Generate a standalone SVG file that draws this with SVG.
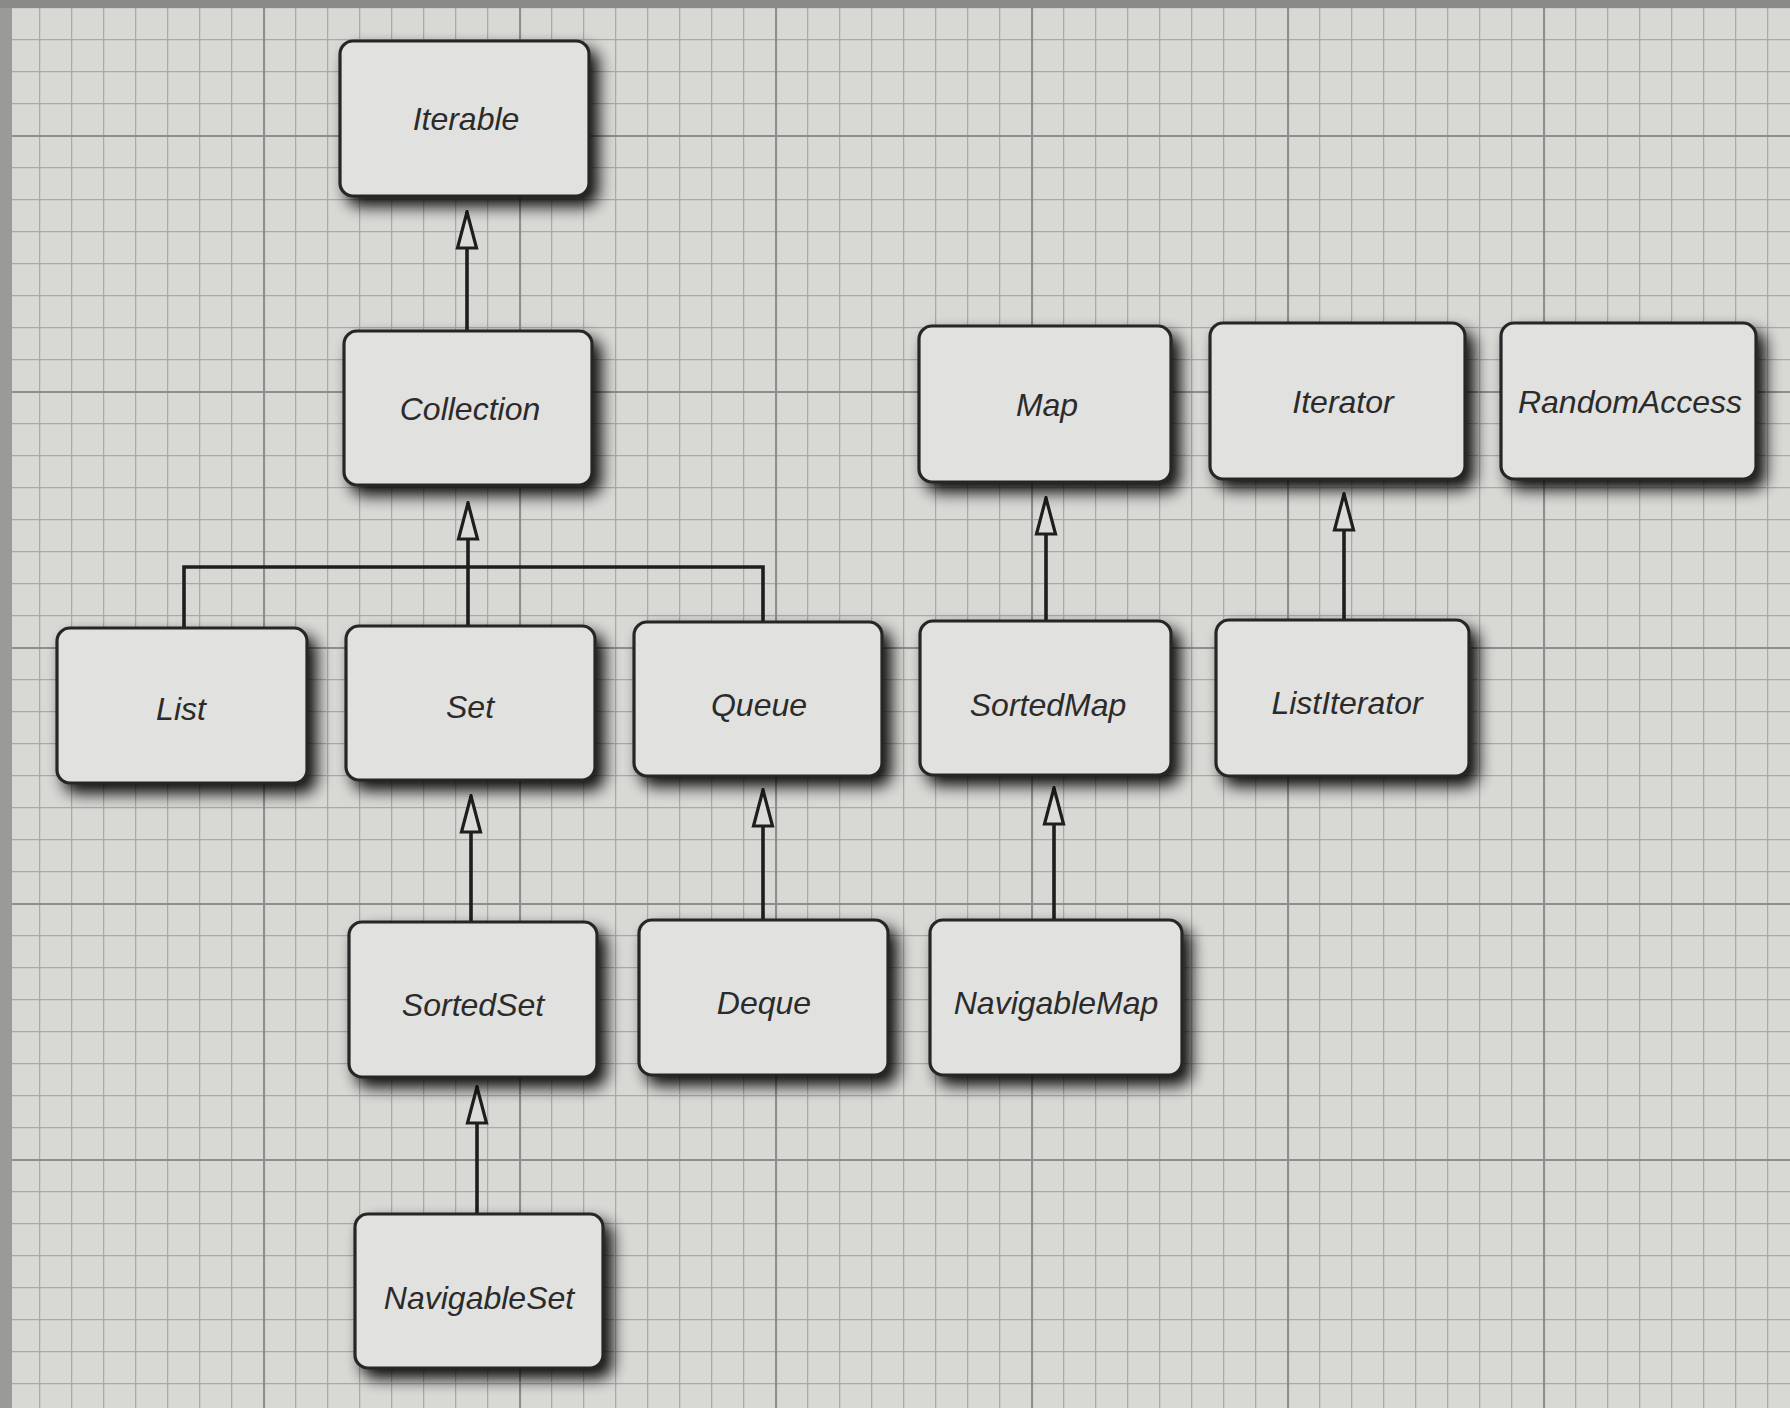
<svg xmlns="http://www.w3.org/2000/svg" width="1790" height="1408" viewBox="0 0 1790 1408">
<defs>
<pattern id="fine" x="7" y="7" width="32" height="32" patternUnits="userSpaceOnUse">
<path d="M0 0.5H32M0.5 0V32" fill="none" stroke="#a9a9a7" stroke-width="1.6"/>
</pattern>
<pattern id="major" x="7" y="135" width="256" height="256" patternUnits="userSpaceOnUse">
<path d="M0 1H256M1 0V256" fill="none" stroke="#8e8e8c" stroke-width="2.2"/>
</pattern>
<filter id="shadow" x="-20%" y="-20%" width="150%" height="150%">
<feGaussianBlur in="SourceAlpha" stdDeviation="8"/>
<feOffset dx="8" dy="9" result="b"/>
<feComponentTransfer><feFuncA type="linear" slope="0.95"/></feComponentTransfer>
<feMerge><feMergeNode/><feMergeNode in="SourceGraphic"/></feMerge>
</filter>
<marker id="tri" viewBox="0 0 40 24" refX="38" refY="12" markerWidth="40" markerHeight="24" markerUnits="userSpaceOnUse" orient="auto">
<path d="M38 12 L2 2.5 L2 21.5 Z" fill="#dcdcda" stroke="#1e1e1e" stroke-width="3.2" stroke-linejoin="miter"/>
</marker>
</defs>
<style>
.box{fill:#e1e1df;stroke:#262626;stroke-width:3.2;filter:url(#shadow)}
.lbl{font-family:"Liberation Sans",Arial,sans-serif;font-style:italic;font-size:32px;fill:#2b2b2b;text-anchor:middle}
.edge{fill:none;stroke:#1e1e1e;stroke-width:3.6}
</style>
<rect width="1790" height="1408" fill="#d8d8d5"/>
<rect width="1790" height="1408" fill="url(#fine)"/>
<rect width="1790" height="1408" fill="url(#major)"/>
<rect x="0" y="0" width="12" height="1408" fill="#9a9a98"/>
<rect x="0" y="0" width="1790" height="8" fill="#8a8a88"/>

<g id="connectors">
<path class="edge" d="M467 331 V212" marker-end="url(#tri)"/>
<path class="edge" d="M468 626 V503" marker-end="url(#tri)"/>
<path class="edge" d="M184 628 V567 H763 V622"/>
<path class="edge" d="M1046 621 V498" marker-end="url(#tri)"/>
<path class="edge" d="M1344 620 V494" marker-end="url(#tri)"/>
<path class="edge" d="M471 922 V796" marker-end="url(#tri)"/>
<path class="edge" d="M763 920 V790" marker-end="url(#tri)"/>
<path class="edge" d="M1054 920 V788" marker-end="url(#tri)"/>
<path class="edge" d="M477 1214 V1087" marker-end="url(#tri)"/>
</g>

<g id="node-iterable"><rect class="box" x="340" y="41" width="249" height="155" rx="13"/><text class="lbl" x="466" y="130">Iterable</text></g>
<g id="node-collection"><rect class="box" x="344" y="331" width="248" height="154" rx="13"/><text class="lbl" x="470" y="420">Collection</text></g>
<g id="node-map"><rect class="box" x="919" y="326" width="252" height="156" rx="13"/><text class="lbl" x="1047" y="416">Map</text></g>
<g id="node-iterator"><rect class="box" x="1210" y="323" width="255" height="156" rx="13"/><text class="lbl" x="1343" y="413">Iterator</text></g>
<g id="node-randomaccess"><rect class="box" x="1501" y="323" width="255" height="156" rx="13"/><text class="lbl" x="1630" y="413">RandomAccess</text></g>
<g id="node-list"><rect class="box" x="57" y="628" width="250" height="155" rx="13"/><text class="lbl" x="181" y="720">List</text></g>
<g id="node-set"><rect class="box" x="346" y="626" width="249" height="154" rx="13"/><text class="lbl" x="470" y="718">Set</text></g>
<g id="node-queue"><rect class="box" x="634" y="622" width="248" height="154" rx="13"/><text class="lbl" x="759" y="716">Queue</text></g>
<g id="node-sortedmap"><rect class="box" x="920" y="621" width="251" height="154" rx="13"/><text class="lbl" x="1048" y="716">SortedMap</text></g>
<g id="node-listiterator"><rect class="box" x="1216" y="620" width="253" height="156" rx="13"/><text class="lbl" x="1347" y="714">ListIterator</text></g>
<g id="node-sortedset"><rect class="box" x="349" y="922" width="248" height="155" rx="13"/><text class="lbl" x="473" y="1016">SortedSet</text></g>
<g id="node-deque"><rect class="box" x="639" y="920" width="249" height="155" rx="13"/><text class="lbl" x="764" y="1014">Deque</text></g>
<g id="node-navigablemap"><rect class="box" x="930" y="920" width="252" height="155" rx="13"/><text class="lbl" x="1056" y="1014">NavigableMap</text></g>
<g id="node-navigableset"><rect class="box" x="355" y="1214" width="248" height="154" rx="13"/><text class="lbl" x="479" y="1309">NavigableSet</text></g>
</svg>
